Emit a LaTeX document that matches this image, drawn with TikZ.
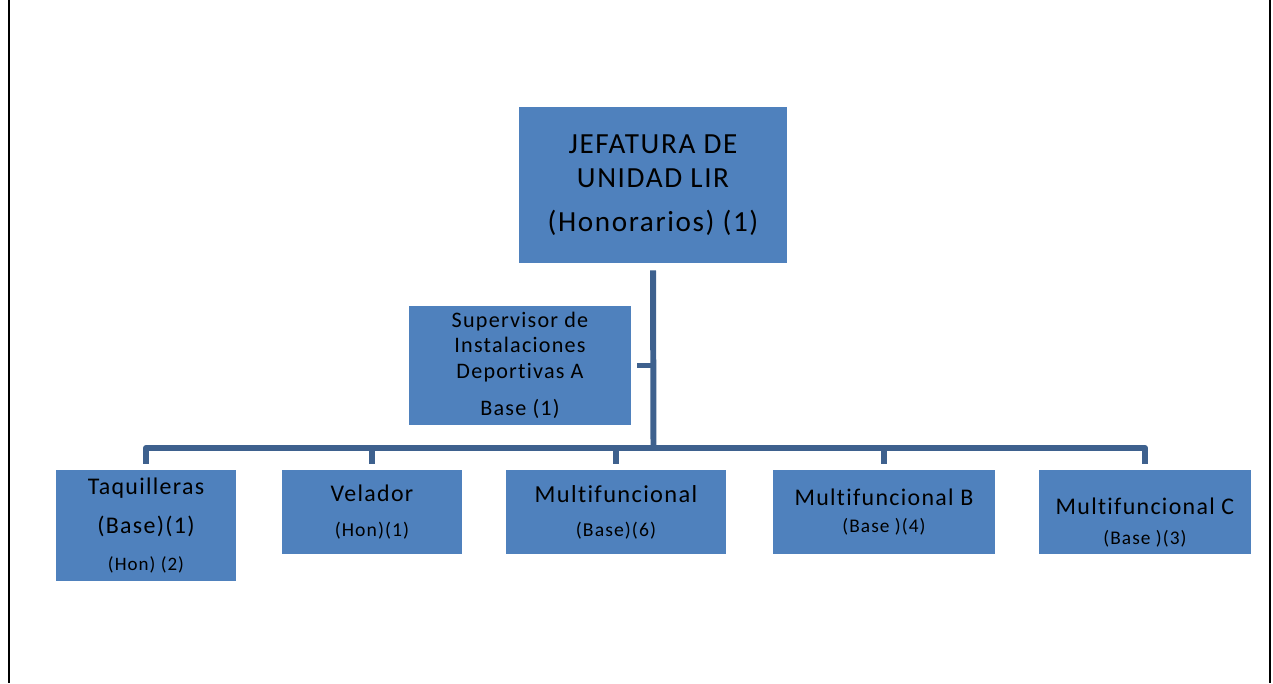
\documentclass[tikz,border=0pt]{standalone}
\usepackage{fontspec}
\setmainfont[LetterSpace=5.5,Ligatures=NoCommon]{Carlito}
\usetikzlibrary{calc,positioning}
\definecolor{cajaazul}{RGB}{79,129,189}
\definecolor{lineaazul}{RGB}{62,97,142}

\begin{document}
\begin{tikzpicture}[x=0.02cm, y=-0.02cm]
	\tikzstyle{caja}=[fill=cajaazul, draw=none, align=center, inner sep=0pt, text=black]
	\tikzstyle{conector}=[draw=lineaazul, line width=3.4pt, line join=round]
	\useasboundingbox (0,0) rectangle (1273,683);
	\draw [line width=1.2pt] (9,0) -- (9,683);
	\draw [line width=0.9pt] (1270,0) -- (1270,683);

	\node [caja, minimum width=5.36cm, minimum height=3.12cm, font=\fontsize{16.6}{19.3}\selectfont] (jefe) at (653,185) {JEFATURA DE\\UNIDAD LIR\\[5.7pt](Honorarios) (1)};
	\node [caja, minimum width=4.44cm, minimum height=2.38cm, font=\fontsize{12.6}{14.5}\selectfont] (sup) at (520,365.5) {Supervisor de\\Instalaciones\\Deportivas A\\[6.8pt]Base (1)};

	\node [caja, minimum width=3.6cm, minimum height=2.22cm, font=\fontsize{13.6}{22.7}\selectfont] (taq) at (146,525.5) {Taquilleras\\(Base)(1)\\[-1.7pt]{\fontsize{10.8}{12}\selectfont (Hon) (2)}};
	\node [caja, minimum width=3.6cm, minimum height=1.68cm, font=\fontsize{13.6}{19.8}\selectfont] (vel) at (372,512) {Velador\\{\fontsize{11.2}{12}\selectfont (Hon)(1)}};
	\node [caja, minimum width=4.4cm, minimum height=1.68cm, font=\fontsize{13.9}{19.3}\selectfont] (multi) at (616,512) {Multifuncional\\{\fontsize{11.2}{12}\selectfont (Base)(6)}};
	\node [caja, minimum width=4.44cm, minimum height=1.68cm, font=\fontsize{13.6}{15.3}\selectfont] (multib) at (884,512) {Multifuncional B\\{\fontsize{11}{12}\selectfont (Base )(4)}};
	\node [caja, minimum width=4.24cm, minimum height=1.68cm, font=\fontsize{13.6}{17}\selectfont] (multic) at (1145,512) {\rule{0pt}{21pt}Multifuncional C\\{\fontsize{11}{12}\selectfont (Base )(3)}};

	% conectores
	\coordinate (eje) at (653.5,448);
	\draw [conector] ($(jefe.south)+(0,7)$) -- (eje);
	\draw [conector] ($(sup.east)+(6,0)$) -- (sup.east -| eje);
	\foreach \hijo in {taq,vel,multi,multib,multic}
		\draw [conector] (eje) -| ($(\hijo.north)+(0,-6)$);
\end{tikzpicture}
\end{document}
